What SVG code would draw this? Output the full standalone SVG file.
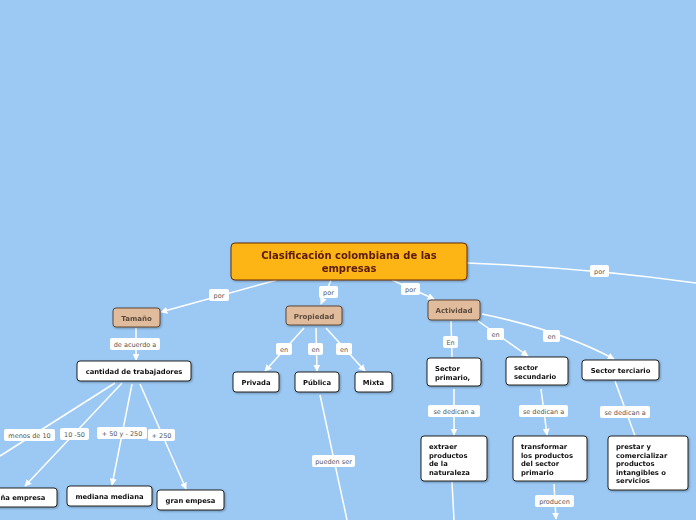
<svg xmlns="http://www.w3.org/2000/svg" width="696" height="520" viewBox="0 0 696 520">
<defs>
<marker id="arr" viewBox="0 0 10 10" refX="9" refY="5" markerWidth="7" markerHeight="7" markerUnits="userSpaceOnUse" orient="auto">
<path d="M0,0 L10,5 L0,10 z" fill="#fff"/>
</marker>
<filter id="sh" x="-10%" y="-10%" width="130%" height="140%">
<feDropShadow dx="1" dy="1" stdDeviation="0.8" flood-color="#000" flood-opacity="0.3"/>
</filter>
</defs>
<style>
.c{fill:none;stroke:#fff;stroke-width:1.5}
.lb rect{fill:#fff;stroke:none}
.lb text{font-family:"DejaVu Sans",Verdana,sans-serif;font-size:6.5px;fill:#555;text-anchor:middle}
.root rect{fill:#FDB515;stroke:#6B2A0A;stroke-width:1}
.root text{font-family:"DejaVu Sans",Verdana,sans-serif;font-size:10px;font-weight:bold;fill:#5A1A08;text-anchor:middle}
.cat rect{fill:#E0BC9C;stroke:#5C4636;stroke-width:1}
.cat text{font-family:"DejaVu Sans",Verdana,sans-serif;font-size:7px;font-weight:bold;fill:#5C4A3C;text-anchor:middle}
.n rect{fill:#fff;stroke:#222;stroke-width:1}
.n text{font-family:"DejaVu Sans",Verdana,sans-serif;font-size:6.8px;font-weight:bold;fill:#111}
.n text.m{text-anchor:middle}
</style>
<rect width="696" height="520" fill="#9BC9F4"/>
<g id="connectors">
<path class="c" d="M277,280 L161,312" marker-end="url(#arr)"/>
<path class="c" d="M331,280 L321,304" marker-end="url(#arr)"/>
<path class="c" d="M392,280 L434,299" marker-end="url(#arr)"/>
<path class="c" d="M467,263 Q590,268 696,283"/>
<path class="c" d="M136,328 L136,360" marker-end="url(#arr)"/>
<path class="c" d="M115,383 L0,456"/>
<path class="c" d="M122,383 L25,486" marker-end="url(#arr)"/>
<path class="c" d="M132,384 L112,485" marker-end="url(#arr)"/>
<path class="c" d="M140,384 L186,489" marker-end="url(#arr)"/>
<path class="c" d="M304,328 L265,371" marker-end="url(#arr)"/>
<path class="c" d="M316,328 L317,371" marker-end="url(#arr)"/>
<path class="c" d="M326,328 L365,371" marker-end="url(#arr)"/>
<path class="c" d="M320,395 L347,520"/>
<path class="c" d="M451,321 L452,357"/>
<path class="c" d="M478,321 L528,356" marker-end="url(#arr)"/>
<path class="c" d="M482,314 Q560,330 614,359" marker-end="url(#arr)"/>
<path class="c" d="M454,389 L454,435" marker-end="url(#arr)"/>
<path class="c" d="M541,389 L547,435" marker-end="url(#arr)"/>
<path class="c" d="M615,381 L635,436"/>
<path class="c" d="M452,482 L454,520"/>
<path class="c" d="M554,484 L556,519" marker-end="url(#arr)"/>
<g class="lb">
<rect x="209" y="289" width="20" height="12" rx="2"/><text x="219" y="297.5">por</text>
<rect x="319" y="286" width="19" height="12" rx="2"/><text x="328.5" y="294.5">por</text>
<rect x="401" y="283" width="19" height="12" rx="2"/><text x="410.5" y="291.5">por</text>
<rect x="590" y="265" width="19" height="12" rx="2"/><text x="599.5" y="273.5">por</text>
<rect x="110" y="338" width="50" height="12" rx="2"/><text x="135" y="346.5">de acuerdo a</text>
<rect x="4" y="429" width="51" height="12" rx="2"/><text x="29.5" y="437.5">menos de 10</text>
<rect x="60" y="428" width="29" height="12" rx="2"/><text x="74.5" y="436.5">10 -50</text>
<rect x="97" y="427" width="50" height="12" rx="2"/><text x="122" y="435.5">+ 50 y - 250</text>
<rect x="148" y="429" width="27" height="12" rx="2"/><text x="161.5" y="437.5">+ 250</text>
<rect x="276" y="343" width="16" height="12" rx="2"/><text x="284" y="351.5">en</text>
<rect x="308" y="343" width="15" height="12" rx="2"/><text x="315.5" y="351.5">en</text>
<rect x="336" y="343" width="16" height="12" rx="2"/><text x="344" y="351.5">en</text>
<rect x="312" y="455" width="43" height="12" rx="2"/><text x="333.5" y="463.5">pueden ser</text>
<rect x="443" y="336" width="15" height="12" rx="2"/><text x="450.5" y="344.5">En</text>
<rect x="487" y="328" width="17" height="12" rx="2"/><text x="495.5" y="336.5">en</text>
<rect x="543" y="330" width="17" height="12" rx="2"/><text x="551.5" y="338.5">en</text>
<rect x="428" y="405" width="52" height="12" rx="2"/><text x="454" y="413.5">se dedican a</text>
<rect x="519" y="405" width="49" height="12" rx="2"/><text x="543.5" y="413.5">se dedican a</text>
<rect x="600" y="406" width="50" height="12" rx="2"/><text x="625" y="414.5">se dedican a</text>
<rect x="535" y="495" width="39" height="12" rx="2"/><text x="554.5" y="503.5">producen</text>
</g>
</g>
<g id="root" class="root" filter="url(#sh)"><rect x="231" y="243" width="236" height="37" rx="4"/><text x="349" y="259">Clasificación colombiana de las</text><text x="349" y="272">empresas</text></g>
<g id="tamano" class="cat" filter="url(#sh)"><rect x="113" y="308" width="47" height="19" rx="3"/><text x="136.5" y="320.5">Tamaño</text></g>
<g id="propiedad" class="cat" filter="url(#sh)"><rect x="286" y="306" width="56" height="19" rx="3"/><text x="314" y="318.5">Propiedad</text></g>
<g id="actividad" class="cat" filter="url(#sh)"><rect x="428" y="300" width="52" height="20" rx="3"/><text x="454" y="313">Actividad</text></g>
<g id="cantidad" class="n" filter="url(#sh)"><rect x="77" y="361" width="114" height="20" rx="3"/><text class="m" x="134" y="373.5">cantidad de trabajadores</text></g>
<g id="pequena" class="n" filter="url(#sh)"><rect x="-35" y="488" width="92" height="19" rx="3"/><text class="m" x="11" y="500">pequeña empresa</text></g>
<g id="mediana" class="n" filter="url(#sh)"><rect x="67" y="486" width="85" height="20" rx="3"/><text class="m" x="109.5" y="498.5">mediana mediana</text></g>
<g id="gran" class="n" filter="url(#sh)"><rect x="157" y="490" width="67" height="20" rx="3"/><text class="m" x="190.5" y="502.5">gran empesa</text></g>
<g id="privada" class="n" filter="url(#sh)"><rect x="233" y="372" width="46" height="20" rx="3"/><text class="m" x="256" y="384.5">Privada</text></g>
<g id="publica" class="n" filter="url(#sh)"><rect x="295" y="372" width="44" height="20" rx="3"/><text class="m" x="317" y="384.5">Pública</text></g>
<g id="mixta" class="n" filter="url(#sh)"><rect x="355" y="372" width="37" height="20" rx="3"/><text class="m" x="373.5" y="384.5">Mixta</text></g>
<g id="primario" class="n" filter="url(#sh)"><rect x="427" y="358" width="54" height="28" rx="3"/><text x="435" y="371">Sector</text><text x="435" y="379.5">primario,</text></g>
<g id="secundario" class="n" filter="url(#sh)"><rect x="506" y="357" width="62" height="28" rx="3"/><text x="514" y="370">sector</text><text x="514" y="378.5">secundario</text></g>
<g id="terciario" class="n" filter="url(#sh)"><rect x="582" y="360" width="77" height="20" rx="3"/><text class="m" x="620.5" y="372.5">Sector terciario</text></g>
<g id="extraer" class="n" filter="url(#sh)"><rect x="421" y="436" width="66" height="45" rx="3"/><text x="429" y="449">extraer</text><text x="429" y="457.5">productos</text><text x="429" y="466">de la</text><text x="429" y="474.5">naturaleza</text></g>
<g id="transformar" class="n" filter="url(#sh)"><rect x="513" y="436" width="74" height="45" rx="3"/><text x="521" y="449">transformar</text><text x="521" y="457.5">los productos</text><text x="521" y="466">del sector</text><text x="521" y="474.5">primario</text></g>
<g id="prestar" class="n" filter="url(#sh)"><rect x="608" y="436" width="80" height="54" rx="3"/><text x="616" y="449">prestar y</text><text x="616" y="457.5">comercializar</text><text x="616" y="466">productos</text><text x="616" y="474.5">intangibles o</text><text x="616" y="483">servicios</text></g>
</svg>
